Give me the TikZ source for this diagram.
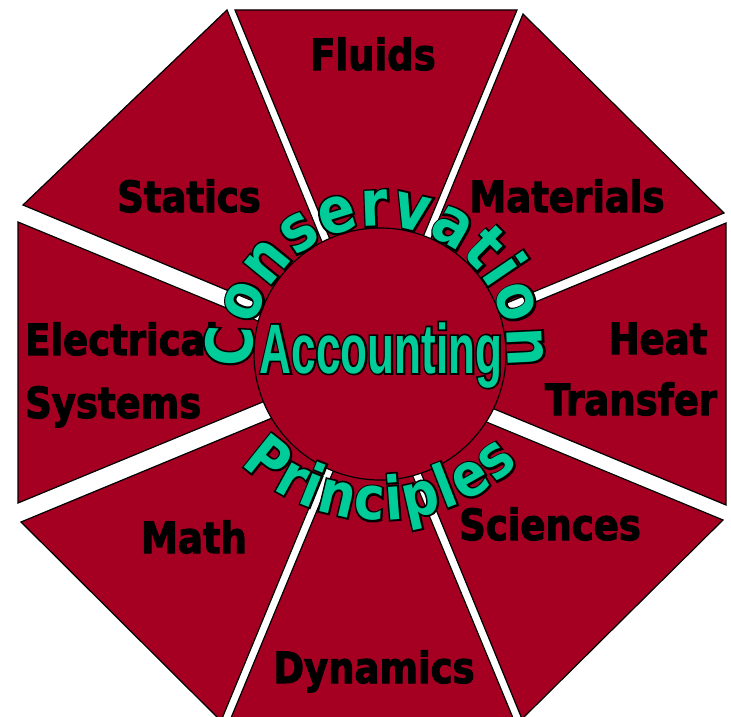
\documentclass[tikz,border=0pt]{standalone}
\usepackage{fontspec}
\usetikzlibrary{decorations.text}
\newfontfamily\labfont[FakeStretch=0.86, FakeBold=2.5]{DejaVu Sans Bold}
\newfontfamily\ringfont[FakeStretch=0.86]{DejaVu Sans Bold}
\newfontfamily\ringedge[FakeStretch=0.86, FakeBold=6]{DejaVu Sans Bold}
\newfontfamily\accfont[FakeStretch=0.63]{Liberation Sans Bold}
\newfontfamily\accedge[FakeStretch=0.63, FakeBold=5]{Liberation Sans Bold}
\definecolor{wedge}{RGB}{165,0,33}
\definecolor{mint}{RGB}{0,204,153}
\newcommand\labsize{\labfont\fontsize{43}{50}\selectfont}
\newcommand\consfill{\ringfont\fontsize{64}{64}\selectfont}
\newcommand\consedge{\ringedge\fontsize{64}{64}\selectfont}
\newcommand\prinfill{\ringfont\fontsize{60}{60}\selectfont}
\newcommand\prinedge{\ringedge\fontsize{60}{60}\selectfont}
\newcommand\accfill{\accfont\fontsize{70}{70}\selectfont}
\newcommand\accline{\accedge\fontsize{70}{70}\selectfont}
\begin{document}
\begin{tikzpicture}[x=1pt,y=1pt,
  piece/.style={fill=wedge, draw=black, line width=1.2pt, line join=miter},
  lab/.style={font=\labsize, text=black, inner sep=0pt, anchor=base},
  hubstyle/.style={circle, fill=wedge, draw=black, line width=1.2pt, minimum size=252pt, inner sep=0pt},
  acc/.style={inner sep=0pt, anchor=base}]
\useasboundingbox (0,0) rectangle (731,716);
\fill[white] (0,0) rectangle (731,716);
% wedges
\draw[piece] (376,365.6) -- (235,706) -- (517,706) -- cycle;
\draw[piece] (383.5,362) -- (523,702) -- (724,503) -- cycle;
\draw[piece] (385.6,352) -- (726,493) -- (726,211) -- cycle;
\draw[piece] (382.5,337) -- (723,196) -- (522,-3) -- cycle;
\draw[piece] (372,338.4) -- (513,-2) -- (231,-2) -- cycle;
\draw[piece] (361.4,335) -- (221,-5) -- (21,194) -- cycle;
\draw[piece] (358.4,353.5) -- (18,213) -- (18,494) -- cycle;
\draw[piece] (365.5,368) -- (23,511) -- (227,706) -- cycle;
% labels
\node[lab] (fluids) at (373,646) {Fluids};
\node[lab] (statics) at (189,504) {Statics};
\node[lab] (materials) at (567,504) {Materials};
\node[lab] (heat) at (658,362) {Heat};
\node[lab] (transfer) at (631,301) {Transfer};
\node[lab, anchor=base west] (electrical) at (25,361) {Electrical};
\node[lab, anchor=base west] (systems) at (25,298) {Systems};
\node[lab] (math) at (194,163) {Math};
\node[lab] (sciences) at (550,176) {Sciences};
\node[lab] (dynamics) at (374,33) {Dynamics};
% hub
\node[hubstyle] (hub) at (380,362) {};
\node[acc, font=\accline, text=black] (accedge) at (381,343) {Accounting};
\node[acc, font=\accfill, text=mint] (accounting) at (381,343) {Accounting};
% ring texts: black edge layer, then green fill layer
\path[decorate, decoration={text along path, text={|\consedge|Conservation}, text align={fit to path}, text color=black}]
  (380,362) ++(186:128) arc[start angle=186, end angle=-6, radius=128];
\path[decorate, decoration={text along path, text={|\consfill|Conservation}, text align={fit to path}, text color=mint}]
  (380,362) ++(186:128) arc[start angle=186, end angle=-6, radius=128];
\path[decorate, decoration={text along path, text={|\prinedge|Principles}, text align={fit to path}, text color=black}]
  (380,396) ++(226:200) arc[start angle=226, end angle=314, radius=200];
\path[decorate, decoration={text along path, text={|\prinfill|Principles}, text align={fit to path}, text color=mint}]
  (380,396) ++(226:200) arc[start angle=226, end angle=314, radius=200];
\end{tikzpicture}
\end{document}
